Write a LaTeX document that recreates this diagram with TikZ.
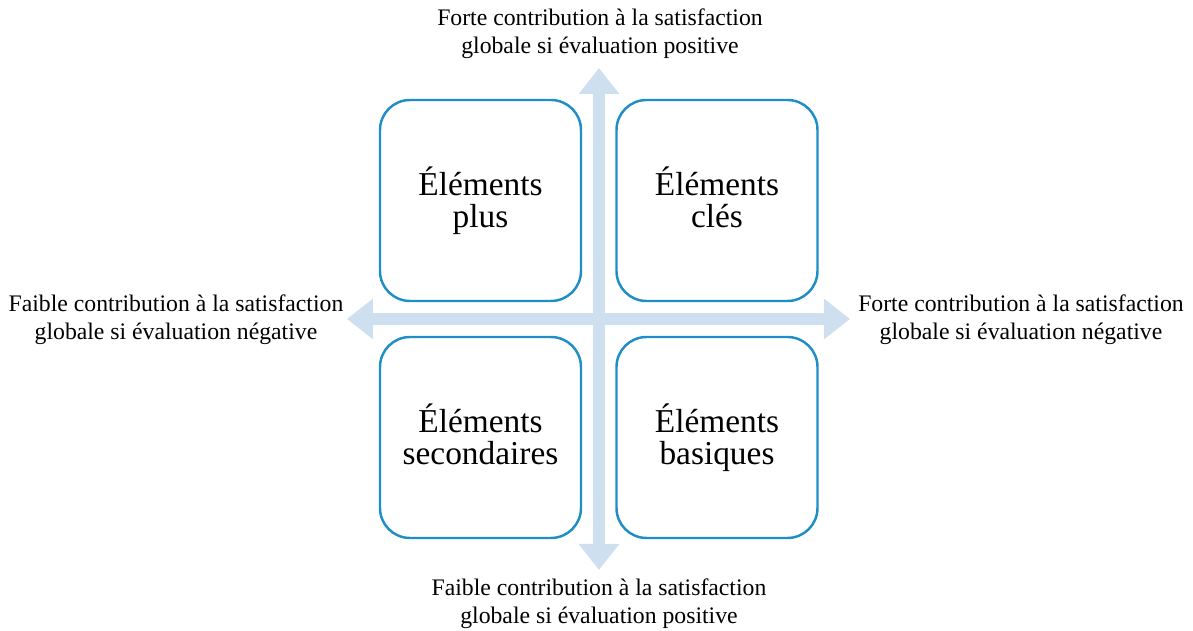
\documentclass[tikz,border=0pt]{standalone}
\usepackage{fontspec}
\setmainfont{Liberation Serif}
\usepackage{tikz}
\usetikzlibrary{arrows.meta, positioning}
\definecolor{boxcolor}{RGB}{32, 142, 198}
\definecolor{axiscolor}{RGB}{206, 224, 240}

\begin{document}
\begin{tikzpicture}[
    quadrant/.style={draw=boxcolor, line width=1.4pt, rounded corners=0.6cm, fill=white, minimum width=4.02cm, minimum height=4.02cm, align=center, font=\fontsize{19}{18.5}\selectfont, execute at end node={\vphantom{p}}},
    axis/.style={draw=axiscolor, line width=0.24cm, {Triangle[width=0.78cm, length=0.52cm]}-{Triangle[width=0.78cm, length=0.52cm]}},
    caption/.style={align=center, font=\fontsize{13.5}{15.7}\selectfont},
]
    \useasboundingbox (-11.98, -6.22) rectangle (11.88, 6.4);

    % Axis ends
    \coordinate (north) at (0, 5.04);
    \coordinate (south) at (0, -5.0);
    \coordinate (west) at (-5.04, 0.02);
    \coordinate (east) at (5.02, 0.02);

    % Axes
    \draw[axis] (south) -- (north);
    \draw[axis] (west) -- (east);

    % Quadrants
    \node[quadrant] (plus) at (-2.37, 2.39) {Éléments\\plus};
    \node[quadrant] (cles) at (2.36, 2.39) {Éléments\\clés};
    \node[quadrant] (secondaires) at (-2.37, -2.35) {Éléments\\secondaires};
    \node[quadrant] (basiques) at (2.36, -2.35) {Éléments\\basiques};

    % Axis labels
    \node[caption] (toplabel) at (0.02, 5.72) {Forte contribution à la satisfaction\\globale si évaluation positive};
    \node[caption] (bottomlabel) at (0, -5.68) {Faible contribution à la satisfaction\\globale si évaluation positive};
    \node[caption] (leftlabel) at (-8.46, 0) {Faible contribution à la satisfaction\\globale si évaluation négative};
    \node[caption] (rightlabel) at (8.44, 0) {Forte contribution à la satisfaction\\globale si évaluation négative};
\end{tikzpicture}
\end{document}
